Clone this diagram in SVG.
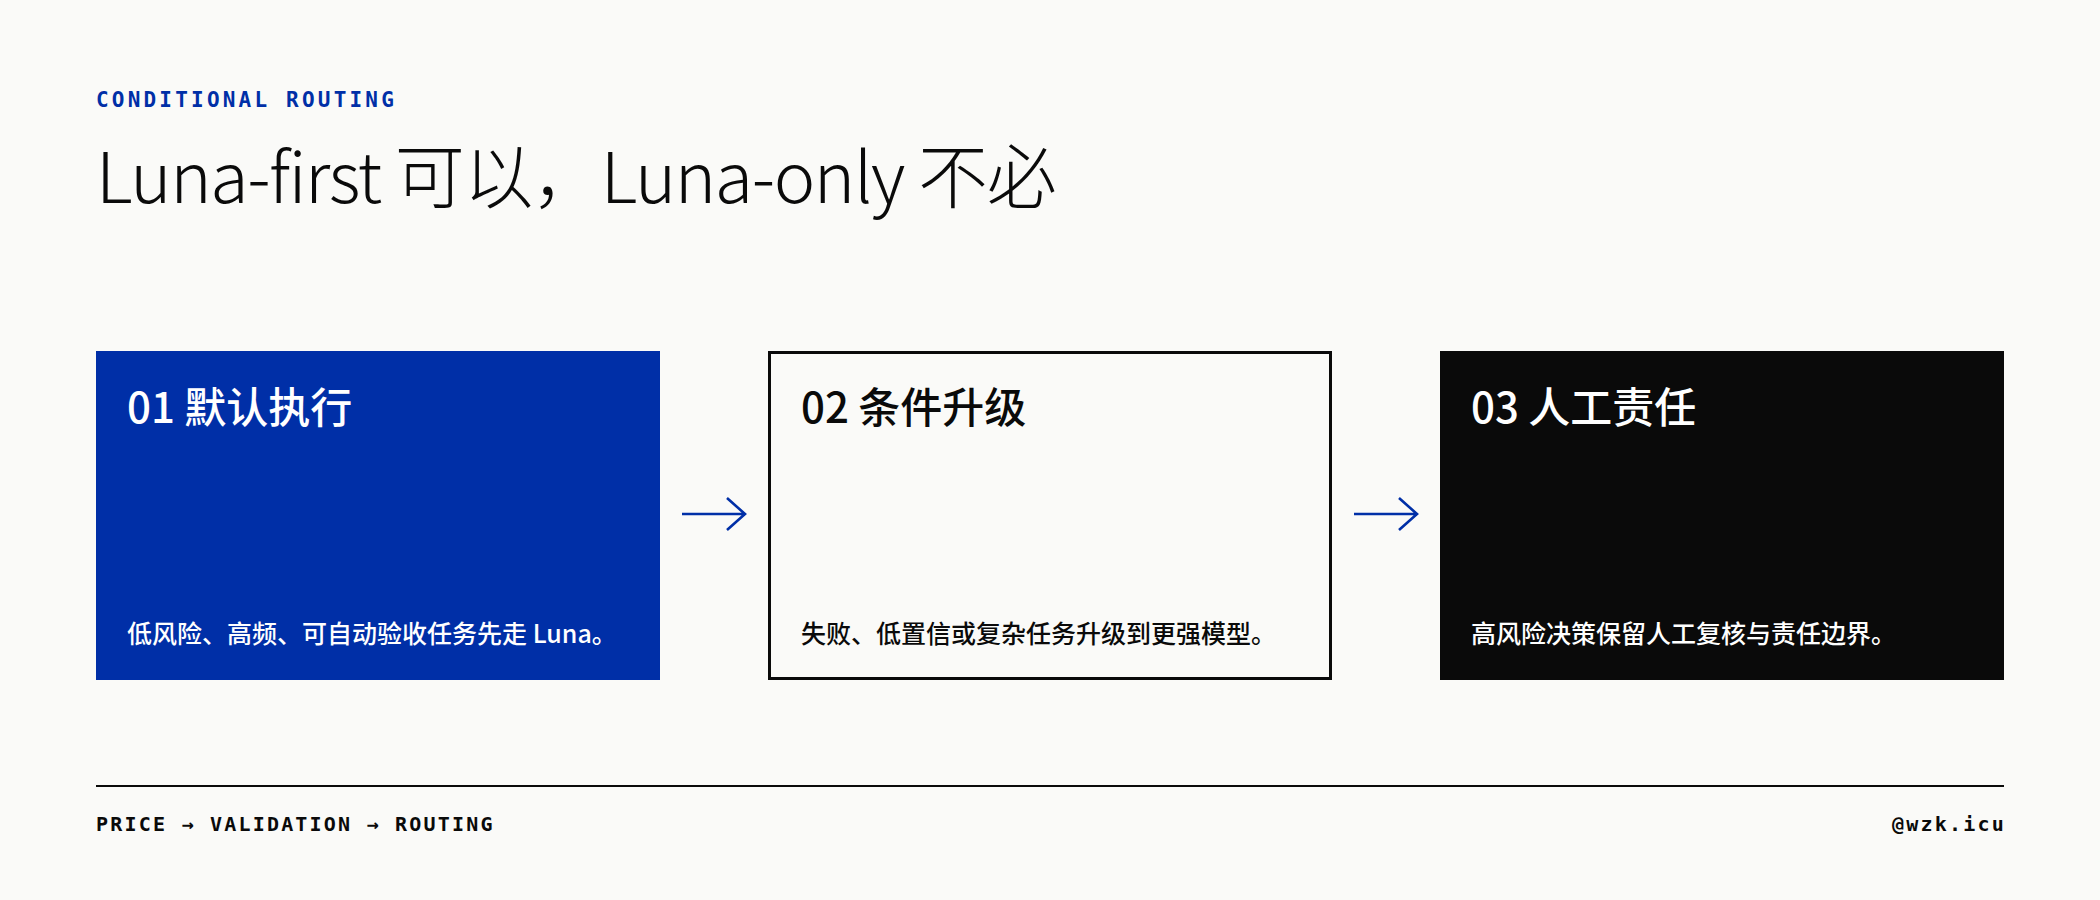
<svg xmlns="http://www.w3.org/2000/svg" width="2100" height="900" viewBox="0 0 2100 900">
  <defs>
    <style>
      .cjk { font-family: "Noto Sans CJK SC", "Noto Sans", sans-serif; }
      .mono { font-family: "DejaVu Sans Mono", "Liberation Mono", monospace; font-weight: 700; }
      .kicker { font-size: 21px; letter-spacing: 3.2px; fill: #002FA7; }
      .title { font-size: 70px; font-weight: 300; letter-spacing: -1.4px; fill: #0A0A0A; }
      .ntitle { font-size: 42px; font-weight: 500; }
      .ndesc { font-size: 25px; font-weight: 500; }
      .foot { font-size: 20px; letter-spacing: 2.2px; fill: #0A0A0A; }
      .conn { fill: none; stroke: #002FA7; stroke-width: 2.6; stroke-linecap: butt; stroke-linejoin: miter; }
    </style>
  </defs>

  <rect x="0" y="0" width="2100" height="900" fill="#FAFAF8"/>

  <g id="header">
    <text class="mono kicker" x="96" y="107">CONDITIONAL ROUTING</text>
    <text class="cjk title" x="96" y="203">Luna-first 可以，Luna-only 不必</text>
  </g>

  <g id="node-01">
    <rect x="96" y="351" width="564" height="329" fill="#002FA7"/>
    <text class="cjk ntitle" x="127" y="423" fill="#FFFFFF">01 默认执行</text>
    <text class="cjk ndesc" x="127" y="643" fill="#FFFFFF">低风险、高频、可自动验收任务先走 Luna。</text>
  </g>

  <g id="node-02">
    <rect x="769.5" y="352.5" width="561" height="326" fill="#FAFAF8" stroke="#0A0A0A" stroke-width="3"/>
    <text class="cjk ntitle" x="801" y="423" fill="#0A0A0A">02 条件升级</text>
    <text class="cjk ndesc" x="801" y="643" fill="#0A0A0A">失败、低置信或复杂任务升级到更强模型。</text>
  </g>

  <g id="node-03">
    <rect x="1440" y="351" width="564" height="329" fill="#0A0A0A"/>
    <text class="cjk ntitle" x="1471" y="423" fill="#FFFFFF">03 人工责任</text>
    <text class="cjk ndesc" x="1471" y="643" fill="#FFFFFF">高风险决策保留人工复核与责任边界。</text>
  </g>

  <g id="connectors">
    <path class="conn" d="M682,514 H745 M727,498 L745,514 L727,530"/>
    <path class="conn" d="M1354,514 H1417 M1399,498 L1417,514 L1399,530"/>
  </g>

  <g id="footer">
    <line x1="96" y1="786" x2="2004" y2="786" stroke="#0A0A0A" stroke-width="2"/>
    <text class="mono foot" x="96" y="831">PRICE → VALIDATION → ROUTING</text>
    <text class="mono foot" x="2006" y="831" text-anchor="end">@wzk.icu</text>
  </g>
</svg>
